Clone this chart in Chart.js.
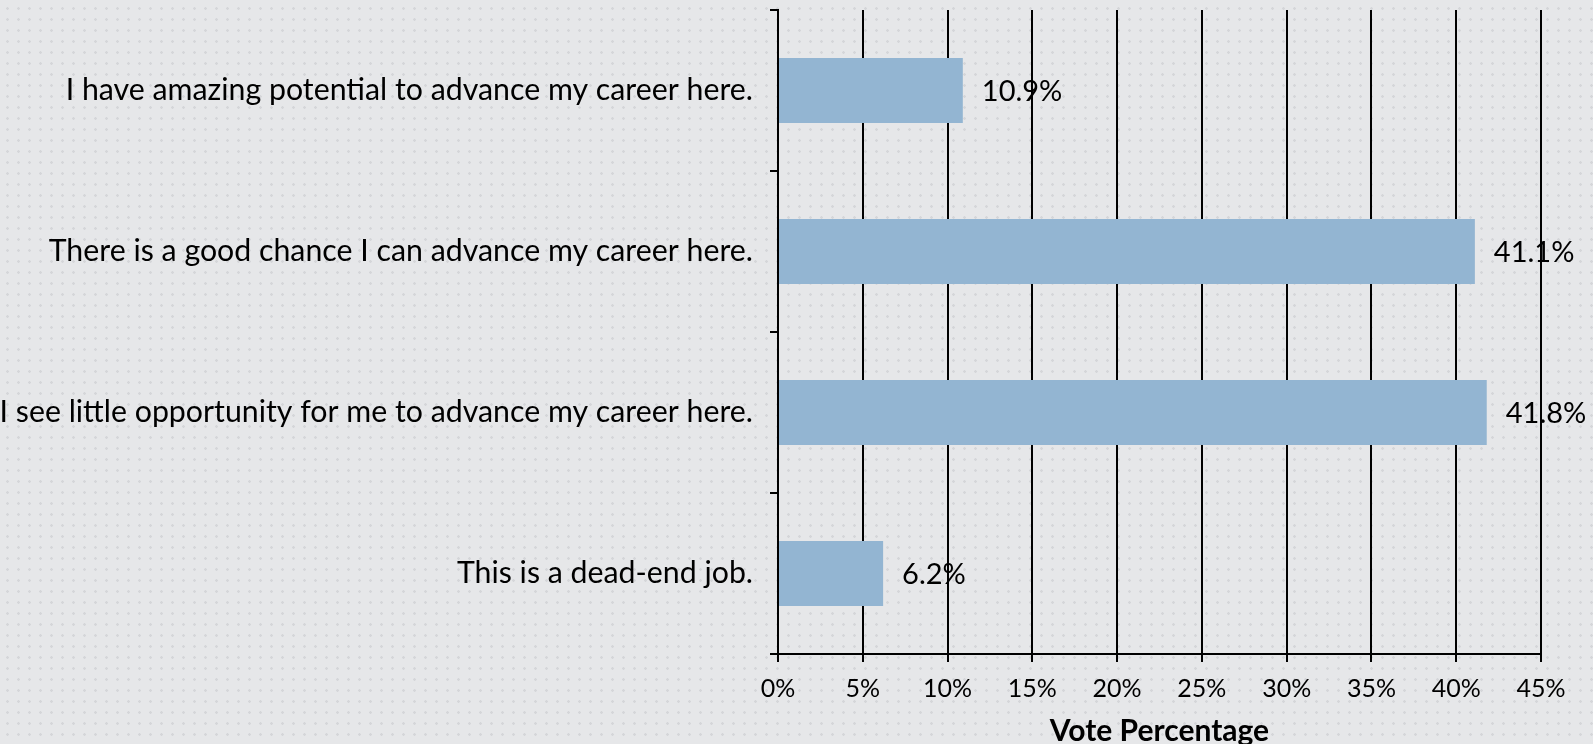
<!DOCTYPE html>
<html>
<head>
<meta charset="utf-8">
<script src="https://cdn.jsdelivr.net/npm/chart.js@4"></script>
<style>
  html, body {
    margin: 0;
    padding: 0;
    width: 1593px;
    height: 744px;
    overflow: hidden;
  }
  body {
    background-color: #e6e7e9;
    background-image: radial-gradient(circle, #d5d6d9 1.1px, transparent 1.5px);
    background-size: 11px 11px;
    background-position: 2px 3px;
  }
  #wrap { position: relative; width: 1593px; height: 744px; }
  canvas { display: block; }
</style>
</head>
<body>
<div id="wrap"><canvas id="myBarChart" width="1593" height="744"></canvas></div>
<script>
const categories = [
  'I have amazing potential to advance my career here.',
  'There is a good chance I can advance my career here.',
  'I see little opportunity for me to advance my career here.',
  'This is a dead-end job.'
];
const votePercent = [10.9, 41.1, 41.8, 6.2];
const tickValues = [0, 5, 10, 15, 20, 25, 30, 35, 40, 45];
const axisTitle = 'Vote Percentage';

const FONT = 'Lato, "Open Sans", sans-serif';

// ghi nhãn giá trị bên phải mỗi thanh
const valueLabels = {
  id: 'valueLabels',
  afterDatasetsDraw(chart) {
    const ctx = chart.ctx;
    const meta = chart.getDatasetMeta(0);
    ctx.save();
    ctx.font = '29px ' + FONT;
    ctx.fillStyle = '#000';
    ctx.textAlign = 'left';
    ctx.textBaseline = 'middle';
    meta.data.forEach((bar, i) => {
      ctx.fillText(votePercent[i].toFixed(1) + '%', bar.x + 19, bar.y + 1);
    });
    ctx.restore();
  }
};

const ctx = document.getElementById('myBarChart').getContext('2d');
new Chart(ctx, {
  type: 'bar',
  data: {
    labels: categories,
    datasets: [{
      label: axisTitle,
      data: votePercent,
      backgroundColor: '#93b5d2',
      borderWidth: 0,
      barPercentage: 0.404,
      categoryPercentage: 1
    }]
  },
  options: {
    indexAxis: 'y',
    responsive: false,
    animation: false,
    devicePixelRatio: 1,
    layout: { padding: { top: 10, right: 52, left: 0, bottom: 0 } },
    scales: {
      x: {
        min: 0,
        max: 45,
        afterBuildTicks(scale) {
          scale.ticks = tickValues.map(v => ({ value: v }));
        },
        afterFit(scale) { scale.height = 90; },
        grid: {
          color: '#000',
          lineWidth: 2,
          tickLength: 8
        },
        border: { display: true, color: '#000', width: 2 },
        ticks: {
          color: '#000',
          padding: 12,
          font: { family: FONT, size: 25 },
          callback: v => v + '%'
        },
        title: {
          display: true,
          text: axisTitle,
          color: '#000',
          font: { family: FONT, size: 30, weight: 'bold', lineHeight: 0.8 },
          padding: { top: 0, bottom: 1 }
        }
      },
      y: {
        afterFit(scale) {
          scale.width = 778;
          scale.paddingTop = 0;
          scale.paddingBottom = 0;
        },
        grid: {
          offset: true,
          drawOnChartArea: false,
          color: '#000',
          lineWidth: 2,
          tickLength: 8
        },
        border: { display: true, color: '#000', width: 2 },
        ticks: {
          color: '#000',
          padding: 17,
          font: { family: FONT, size: 30.3 }
        }
      }
    },
    plugins: {
      legend: { display: false },
      tooltip: { enabled: false }
    }
  },
  plugins: [valueLabels]
});
</script>
</body>
</html>
